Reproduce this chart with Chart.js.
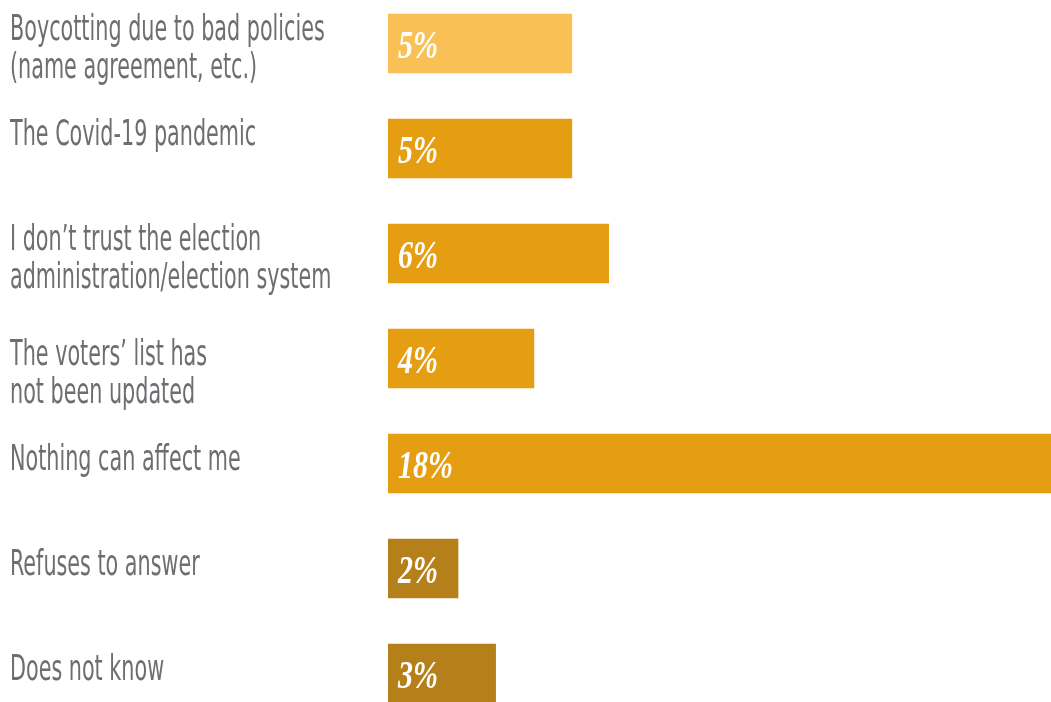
<!DOCTYPE html>
<html>
<head>
<meta charset="utf-8">
<script src="https://cdn.jsdelivr.net/npm/chart.js@4"></script>
<style>
  html, body { margin: 0; padding: 0; background: #fff; overflow: hidden; }
  #wrap { position: absolute; left: 0; top: -9px; width: 1051px; height: 735px; }
</style>
</head>
<body>
<div id="wrap"><canvas id="chart"></canvas></div>
<script>
const categories = [
    ['Boycotting due to bad policies', '(name agreement, etc.)'],
    ['The Covid-19 pandemic'],
    ['I don\u2019t trust the election', 'administration/election system'],
    ['The voters\u2019 list has', 'not been updated'],
    ['Nothing can affect me'],
    ['Refuses to answer'],
    ['Does not know']
];
const values = [5, 5, 6, 3.97, 18, 1.91, 2.93];
const barColors = ['#F9C155', '#E59E12', '#E59E12', '#E59E12', '#E59E12', '#B57F1A', '#B57F1A'];

// labels on the left and the percent text inside each bar
const textPlugin = {
    id: 'textPlugin',
    afterDatasetsDraw(chart, args, opts) {
        const ctx = chart.ctx;
        const meta = chart.getDatasetMeta(0);
        const sx = 0.64;
        meta.data.forEach((bar, i) => {
            const top = bar.y - bar.height / 2;
            const nudge = opts.nudge[i] || 0;

            ctx.save();
            ctx.fillStyle = '#6D6E71';
            ctx.font = '36px "DejaVu Sans Condensed", "Liberation Sans Narrow", sans-serif';
            ctx.textBaseline = 'alphabetic';
            ctx.scale(sx, 1);
            categories[i].forEach((line, j) => {
                ctx.fillText(line, 10 / sx, top + 26 + nudge + j * 38);
            });
            ctx.restore();

            ctx.save();
            ctx.fillStyle = '#FFFFFF';
            ctx.font = 'italic bold 40px "Liberation Serif", serif';
            ctx.textBaseline = 'alphabetic';
            ctx.scale(0.75, 1);
            ctx.fillText(Math.round(values[i]) + '%', (bar.base + 10) / 0.75, bar.y + 14);
            ctx.restore();
        });
    }
};

new Chart(document.getElementById('chart'), {
    type: 'bar',
    data: {
        labels: categories.map(c => c.join(' ')),
        datasets: [{
            data: values,
            backgroundColor: barColors,
            borderWidth: 0,
            categoryPercentage: 1,
            barPercentage: 0.567
        }]
    },
    options: {
        indexAxis: 'y',
        responsive: true,
        maintainAspectRatio: false,
        animation: false,
        layout: { padding: { left: 388, right: 0, top: 0, bottom: 0 } },
        plugins: {
            legend: { display: false },
            tooltip: { enabled: false },
            textPlugin: { nudge: [0, 0, 0, 10, 10, 10, 10] }
        },
        scales: {
            x: { display: false, min: 0, max: 18 },
            y: { display: false }
        }
    },
    plugins: [textPlugin]
});
</script>
</body>
</html>
